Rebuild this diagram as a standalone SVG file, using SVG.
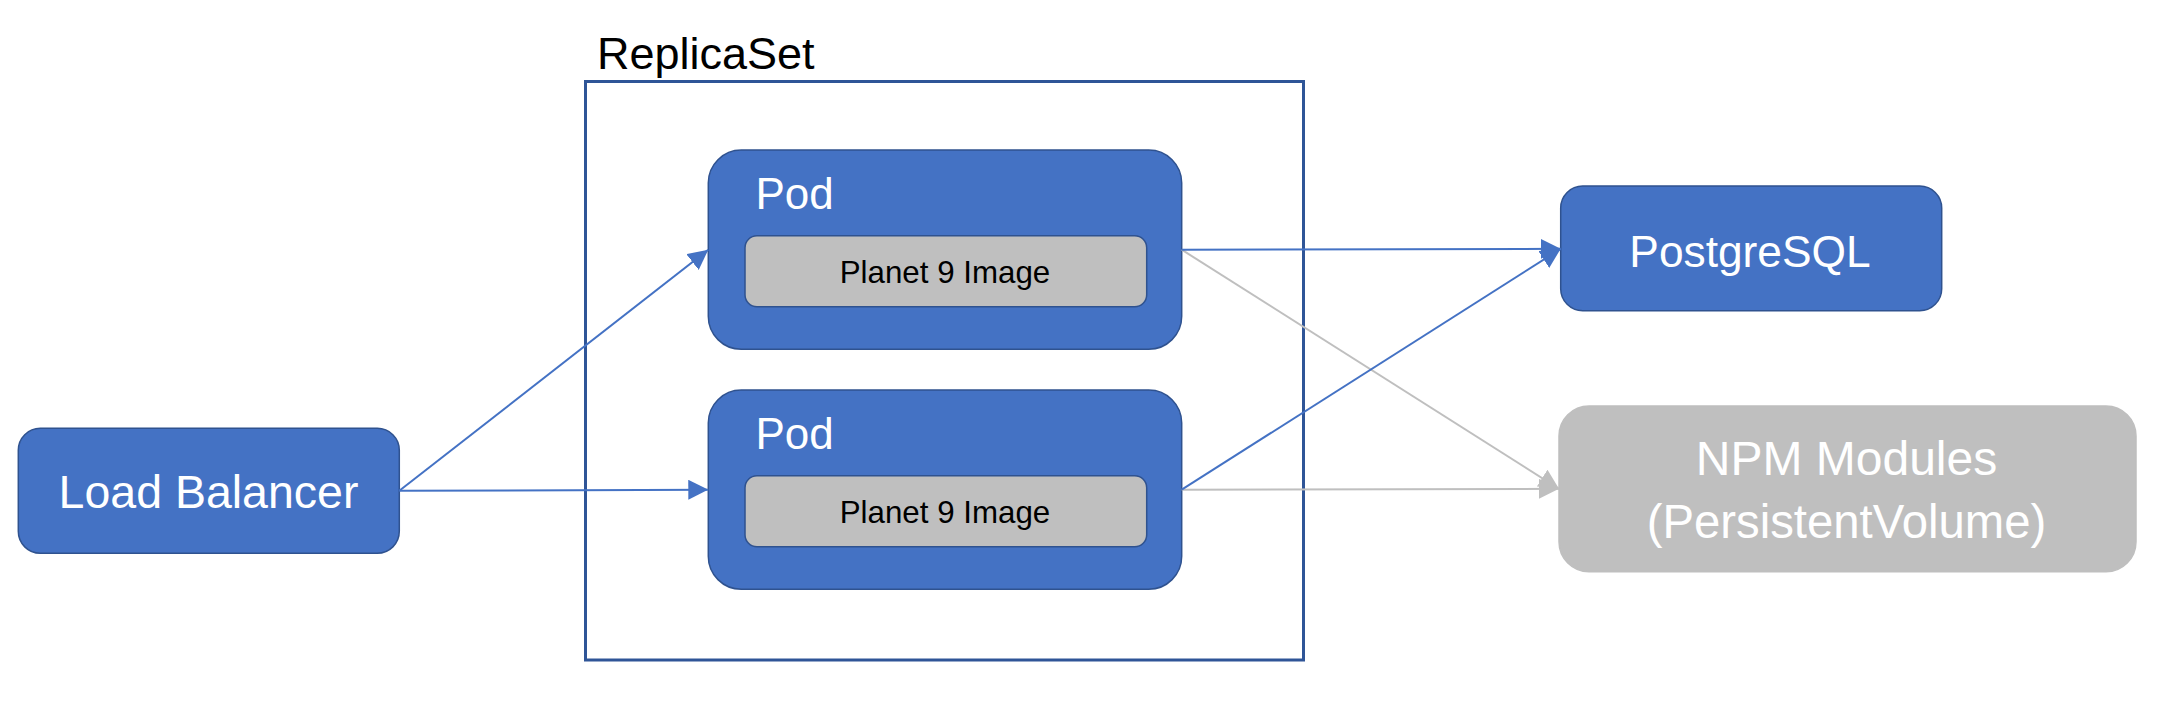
<svg xmlns="http://www.w3.org/2000/svg" width="2162" height="704" viewBox="0 0 2162 704">
  <style>
    .node { fill: #4472C4; stroke: #2F528F; stroke-width: 1.5; }
    .img { fill: #BFBFBF; stroke: #2F528F; stroke-width: 1.5; }
    .pv { fill: #BFBFBF; stroke: #BFBFBF; stroke-width: 1.5; }
    .t { font-family: "Liberation Sans", Arial, sans-serif; }
    .w { fill: #FFFFFF; }
    .k { fill: #000000; }
    .blue { stroke: #4472C4; stroke-width: 2; fill: none; }
    .gray { stroke: #BFBFBF; stroke-width: 2; fill: none; }
  </style>
  <defs>
    <marker id="ab" markerUnits="userSpaceOnUse" markerWidth="20" markerHeight="20" viewBox="0 0 18 18" refX="18" refY="9" orient="auto">
      <path d="M0,0 L18,9 L0,18 z" fill="#4472C4"/>
    </marker>
    <marker id="ag" markerUnits="userSpaceOnUse" markerWidth="20" markerHeight="20" viewBox="0 0 18 18" refX="18" refY="9" orient="auto">
      <path d="M0,0 L18,9 L0,18 z" fill="#BFBFBF"/>
    </marker>
  </defs>
  <rect width="2162" height="704" fill="#FFFFFF"/>

  <g id="replicaset">
    <rect x="585.5" y="81.5" width="718" height="578.5" fill="none" stroke="#2F5597" stroke-width="3"/>
    <text class="t k" x="597" y="69.3" font-size="45">ReplicaSet</text>
  </g>

  <g id="load-balancer">
    <rect class="node" x="18.3" y="428.3" width="381" height="125" rx="22"/>
    <text class="t w" x="208.5" y="508" font-size="46.5" text-anchor="middle">Load Balancer</text>
  </g>

  <g id="pod-1">
    <rect class="node" x="708.3" y="150" width="473.4" height="199.3" rx="33"/>
    <text class="t w" x="755.5" y="209" font-size="44">Pod</text>
    <rect class="img" x="745" y="235.7" width="401.7" height="71" rx="12"/>
    <text class="t k" x="945" y="282.7" font-size="31.3" text-anchor="middle">Planet 9 Image</text>
  </g>

  <g id="pod-2">
    <rect class="node" x="708.3" y="390" width="473.4" height="199.3" rx="33"/>
    <text class="t w" x="755.5" y="449" font-size="44">Pod</text>
    <rect class="img" x="745" y="475.7" width="401.7" height="71" rx="12"/>
    <text class="t k" x="945" y="522.7" font-size="31.3" text-anchor="middle">Planet 9 Image</text>
  </g>

  <g id="postgresql">
    <rect class="node" x="1560.7" y="186" width="381" height="124.7" rx="22"/>
    <text class="t w" x="1750" y="266.7" font-size="44.3" text-anchor="middle">PostgreSQL</text>
  </g>

  <g id="npm-modules">
    <rect class="pv" x="1559" y="406" width="577" height="165.7" rx="30"/>
    <text class="t w" x="1846.5" y="475" font-size="48" text-anchor="middle">NPM Modules</text>
    <text class="t w" x="1846.5" y="538.3" font-size="47.3" text-anchor="middle">(PersistentVolume)</text>
  </g>

  <g id="connectors">
    <line class="gray" x1="1181.7" y1="249.7" x2="1559" y2="488.8" marker-end="url(#ag)"/>
    <line class="gray" x1="1181.7" y1="489.7" x2="1559" y2="488.8" marker-end="url(#ag)"/>
    <line class="blue" x1="399.3" y1="490.8" x2="708.3" y2="249.7" marker-end="url(#ab)"/>
    <line class="blue" x1="399.3" y1="490.8" x2="708.3" y2="489.7" marker-end="url(#ab)"/>
    <line class="blue" x1="1181.7" y1="249.7" x2="1560.7" y2="248.8" marker-end="url(#ab)"/>
    <line class="blue" x1="1181.7" y1="489.7" x2="1560.7" y2="248.8" marker-end="url(#ab)"/>
  </g>
</svg>
